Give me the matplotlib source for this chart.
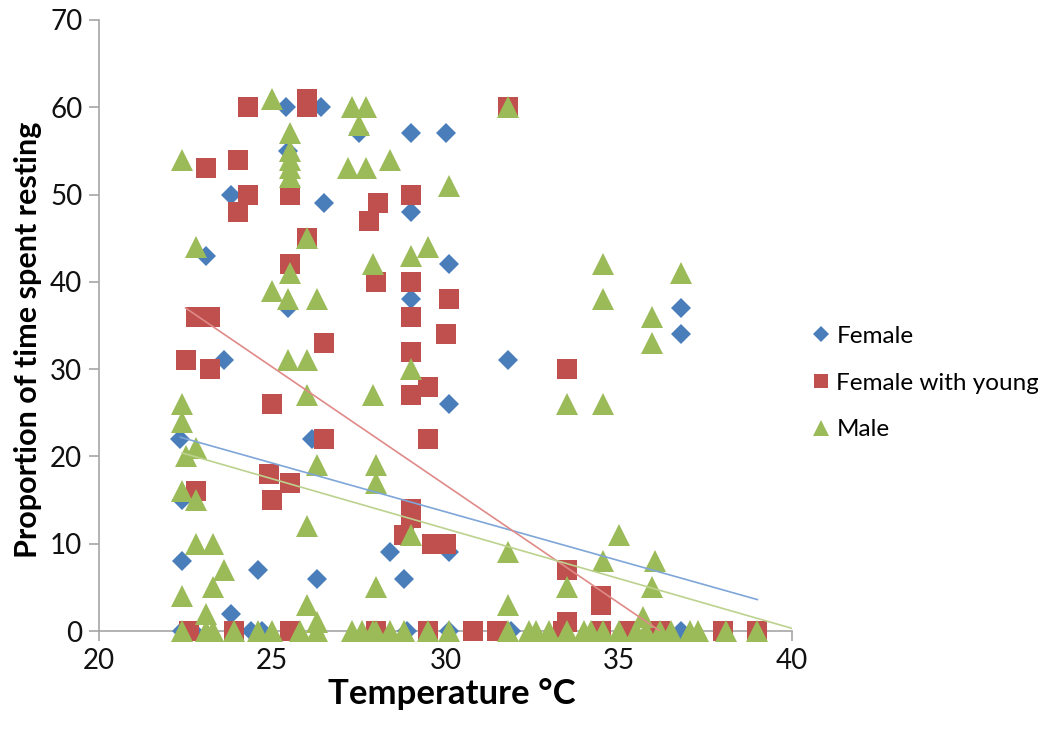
import matplotlib
matplotlib.use("Agg")
import matplotlib.pyplot as plt
import numpy as np

plt.rcParams['font.family'] = ['Lato', 'DejaVu Sans']

# ---- data ----
female_x = [25.4, 26.4, 27.5, 25.45, 23.8, 26.5, 23.1, 25.45, 23.6, 22.35, 26.15, 22.4, 22.4,
            24.6, 26.3, 23.8, 22.4, 22.7, 24.4, 24.7, 29.0, 30.0, 29.0, 30.1, 29.0, 31.8, 30.1,
            28.4, 28.8, 30.1, 28.9, 30.1, 31.9, 36.8, 36.8, 36.8, 39.0]
female_y = [60, 60, 57, 55, 50, 49, 43, 37, 31, 22, 22, 15, 8,
            7, 6, 2, 0, 0, 0, 0, 57, 57, 48, 42, 38, 31, 26,
            9, 6, 9, 0, 0, 0, 37, 34, 0, 0]

young_x = [24.3, 26.0, 26.0, 23.1, 24.0, 24.3, 24.0, 25.5, 26.0, 25.5, 27.8, 28.05, 29.0,
           29.0, 28.0, 30.1, 29.0, 30.0, 29.0, 29.0, 29.5, 29.5, 33.5, 22.8, 23.2, 22.5,
           23.2, 26.5, 25.0, 26.5, 24.9, 25.5, 25.0, 22.8, 29.0, 29.0, 28.8, 29.6, 30.0,
           33.5, 34.5, 34.5, 33.5, 31.8,
           22.6, 23.9, 25.5, 28.0, 29.5, 30.8, 31.5, 33.4, 34.5, 35.3, 36.2, 38.0, 39.0]
young_y = [60, 61, 60, 53, 54, 50, 48, 50, 45, 42, 47, 49, 50,
           40, 40, 38, 36, 34, 32, 27, 28, 22, 30, 36, 36, 31,
           30, 33, 26, 22, 18, 17, 15, 16, 14, 13, 11, 10, 10,
           7, 4, 3, 1, 60,
           0, 0, 0, 0, 0, 0, 0, 0, 0, 0, 0, 0, 0]

male_x = [25.0, 27.3, 27.7, 27.5, 25.5, 25.5, 25.5, 25.5, 25.5, 22.4, 27.2, 27.7, 28.4, 30.1,
          31.8, 22.8, 26.0, 25.5, 27.9, 29.0, 29.5, 25.0, 25.45, 26.3, 25.45, 26.0, 26.0, 27.9,
          22.4, 22.4, 22.5, 22.8, 26.3, 22.4, 22.8, 22.8, 23.3, 23.6, 23.3, 22.4, 26.0, 23.1,
          26.0, 26.3, 28.0, 28.0, 29.0, 28.0, 31.8, 31.8, 29.0, 33.5, 34.55, 36.8, 34.55, 35.96,
          35.96, 34.55, 35.0, 34.55, 36.05, 33.5, 35.96, 35.7,
          22.4, 23.1, 23.3, 23.9, 24.6, 25.0, 25.8, 26.3, 27.3, 27.6, 27.9, 28.0, 28.4, 28.8,
          29.5, 30.1, 31.8, 32.4, 32.6, 33.0, 33.5, 34.0, 34.2, 34.55, 35.0, 35.5, 35.8, 36.2,
          36.5, 37.05, 37.3, 38.1, 39.0]
male_y = [61, 60, 60, 58, 57, 55, 54, 53, 52, 54, 53, 53, 54, 51,
          60, 44, 45, 41, 42, 43, 44, 39, 38, 38, 31, 31, 27, 27,
          26, 24, 20, 21, 19, 16, 15, 10, 10, 7, 5, 4, 12, 2,
          3, 1, 19, 17, 11, 5, 9, 3, 30, 26, 42, 41, 38, 36,
          33, 26, 11, 8, 8, 5, 5, 1.6,
          0, 0, 0, 0, 0, 0, 0, 0, 0, 0, 0, 0, 0, 0,
          0, 0, 0, 0, 0, 0, 0, 0, 0, 0, 0, 0, 0, 0,
          0, 0, 0, 0, 0]

# linear trend lines (end points)
female_trend_x = [22.35, 39.0]
female_trend_y = [22.2, 3.6]
young_trend_x = [22.5, 39.0]
young_trend_y = [37.0, -7.6]
male_trend_x = [22.4, 40.0]
male_trend_y = [20.4, 0.3]

labels = ["Female", "Female with young", "Male"]
x_ticks = [20, 25, 30, 35, 40]
y_ticks = [0, 10, 20, 30, 40, 50, 60, 70]

c_blue = "#4A7EBB"
c_red = "#C0504D"
c_green = "#9BBB59"
axis_gray = "#A6A6A6"

fig = plt.figure(figsize=(10.38, 7.29), dpi=100)
ax = fig.add_axes([99/1038, 1 - 631/729, (792-99)/1038, (631-20)/729])

ax.plot(female_x, female_y, linestyle='none', marker='D', markersize=10.5,
        color=c_blue, markeredgewidth=0, label=labels[0], clip_on=False, zorder=3)
ax.plot(young_x, young_y, linestyle='none', marker='s', markersize=14,
        color=c_red, markeredgewidth=0, label=labels[1], clip_on=False, zorder=4)
ax.plot(male_x, male_y, linestyle='none', marker='^', markersize=15.5,
        color=c_green, markeredgewidth=0, label=labels[2], clip_on=False, zorder=5)

ax.plot(female_trend_x, female_trend_y, color="#7FA6D8", lw=1.2, zorder=6)
ax.plot(young_trend_x, young_trend_y, color="#E08A88", lw=1.2, zorder=6)
ax.plot(male_trend_x, male_trend_y, color="#BCD28E", lw=1.2, zorder=6)

ax.set_xlim(20, 40)
ax.set_ylim(0, 70)
ax.set_xticks(x_ticks)
ax.set_yticks(y_ticks)
ax.tick_params(axis='both', direction='out', length=7, width=1.2, color=axis_gray,
               labelsize=20, pad=5, labelcolor='#111111')
for s in ['top', 'right']:
    ax.spines[s].set_visible(False)
for s in ['left', 'bottom']:
    ax.spines[s].set_color(axis_gray)
    ax.spines[s].set_linewidth(1.2)

ax.set_xlabel("Temperature °C", fontsize=25, fontweight='bold')
ax.xaxis.set_label_coords(0.509, -0.077)
ax.set_ylabel("Proportion of time spent resting", fontsize=22, fontweight='bold')
ax.yaxis.set_label_coords(-0.082, 0.477)

leg = fig.legend(loc='center left', bbox_to_anchor=(800/1038, 1 - 383/729),
                 frameon=False, fontsize=17.5, handlelength=0.7, handletextpad=0.3,
                 labelspacing=1.05, markerscale=0.75, borderpad=0)

fig.savefig("out.png", dpi=100)
